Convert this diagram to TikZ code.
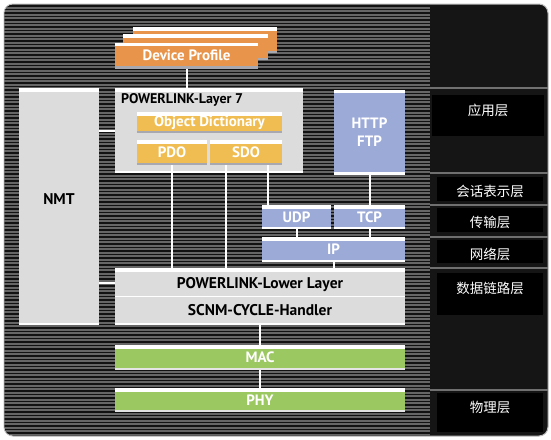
\documentclass[tikz,border=0pt]{standalone}
\usepackage{fontspec}
\setmainfont{PT Sans}
\newfontfamily\cjk{Noto Sans CJK SC}
\definecolor{stripegray}{HTML}{666666}
\definecolor{stripeblack}{HTML}{121212}
\definecolor{panel}{HTML}{151515}
\definecolor{rimgray}{HTML}{BDBDBD}
\definecolor{bandline}{HTML}{707070}
\definecolor{profile}{HTML}{E8944A}
\definecolor{dict}{HTML}{F0BD52}
\definecolor{grayblk}{HTML}{DCDCDC}
\definecolor{netblue}{HTML}{9CAAD8}
\definecolor{phygreen}{HTML}{9CC862}
\definecolor{lowgray}{HTML}{A8A8B0}
\definecolor{lowgreen}{HTML}{E4E4E4}
\newcommand\boxfont{\bfseries\fontsize{15}{17}\selectfont}
\newcommand\tagfont{\cjk\fontsize{13.5}{15}\selectfont}
\begin{document}
\begin{tikzpicture}[x=1pt,y=-1pt,
  layer/.style 2 args={rectangle, inner sep=0pt, outer sep=0pt, fill=#1, text=white, font=\boxfont,
    path picture={
      \fill[white] (path picture bounding box.north west) rectangle ([yshift=-3.5pt]path picture bounding box.north east);
      \fill[#2] (path picture bounding box.south west) rectangle ([yshift=2.5pt]path picture bounding box.south east);}},
  dims/.style 2 args={minimum width=#1pt, minimum height=#2pt},
  wire/.style={white, line width=2pt},
  tag/.style 2 args={fill=black, text=white, font=\tagfont, inner sep=0pt, minimum width=106pt,
    text height=#1pt, text depth=#2pt, anchor=north}]
\useasboundingbox (0,0) rectangle (551,439);
\fill[white] (0,0) rectangle (551,439);
% frame and striped background
\draw[draw=rimgray, line width=1pt, fill=panel, rounded corners=9pt] (4,4) rectangle (548,436);
\begin{scope}
\clip[rounded corners=9pt] (4.5,4.5) rectangle (547.5,435.5);
\fill[stripegray] (4,4) rectangle (430,436);
\foreach \y in {6,9.5,...,436} \draw[stripeblack, line width=1.7pt] (4,\y) -- (430,\y);
\end{scope}
\foreach \y in {88,173,205,237,268,390} \draw[bandline, line width=1.5pt] (430,\y) -- (548,\y);

% OSI layers
\node[tag={20}{21}, minimum width=112pt] (app) at (488,95) {应用层};
\node[tag={19}{5}] (ses) at (490,177) {会话表示层};
\node[tag={19}{5}] (tra) at (490,208) {传输层};
\node[tag={19}{4}] (net) at (490,240) {网络层};
\node[tag={20}{22}] (dll) at (490,273) {数据链路层};
\node[tag={19}{20}] (phl) at (490,393) {物理层};

% stack
\node[layer={profile}{lowgray}, dims={144}{26}] (dp3) at (205,40) {};
\node[layer={profile}{lowgray}, dims={145}{26}] (dp2) at (195.5,47) {};
\node[layer={profile}{lowgray}, dims={143}{26}] (dp) at (186.5,55.5) {Device Profile};
\node[layer={grayblk}{white}, dims={188}{85},
  label={[anchor=north west, xshift=6pt, yshift=-5pt, inner sep=0pt, text=black,
  font=\bfseries\fontsize{14}{16}\selectfont]north west:POWERLINK-Layer 7}] (l7) at (209,130.5) {};
\node[layer={dict}{lowgray}, dims={145}{21}] (od) at (209.5,122.5) {Object Dictionary};
\node[layer={dict}{lowgray}, dims={70}{25}] (pdo) at (172,152.5) {PDO};
\node[layer={dict}{lowgray}, dims={72}{25}] (sdo) at (246,152.5) {SDO};
\node[layer={grayblk}{white}, dims={80}{237},
  label={[yshift=7pt, text=black, font=\bfseries\fontsize{15.5}{17}\selectfont]center:NMT}] (nmt) at (59,206.5) {};
\node[layer={netblue}{white}, dims={71}{85}, align=center,
  font=\bfseries\fontsize{15}{18}\selectfont] (http) at (369.5,132) {HTTP\\FTP};
\node[layer={netblue}{white}, dims={69}{24}] (udp) at (296.5,217) {UDP};
\node[layer={netblue}{white}, dims={71}{24}] (tcp) at (369.5,217) {TCP};
\node[layer={netblue}{white}, dims={143}{25}] (ip) at (333.5,249.5) {IP};
\node[layer={grayblk}{white}, dims={290}{57}, text=black, align=center,
  font=\bfseries\fontsize{15.5}{27}\selectfont] (ll) at (260,296.5) {POWERLINK-Lower Layer\\SCNM-CYCLE-Handler};
\draw[white, line width=1pt] (ll.west) -- (ll.east);
\node[layer={phygreen}{lowgreen}, dims={290}{25}] (mac) at (260,357.5) {MAC};
\node[layer={phygreen}{lowgreen}, dims={290}{24}] (phy) at (260,400) {PHY};

% links
\draw[wire] (dp.south) -- (dp.south |- l7.north);
\draw[wire] (l7.west -| nmt.east) -- (l7.west);
\draw[wire] ([yshift=13.5pt]ll.west -| nmt.east) -- ([yshift=13.5pt]ll.west);
\draw[wire] (pdo.south) -- (pdo.south |- ll.north);
\draw[wire] ([xshift=-20pt]sdo.south) -- ([xshift=-20pt]sdo.south |- ll.north);
\draw[wire] ([xshift=22pt]sdo.south) -- ([xshift=22pt]sdo.south |- udp.north);
\draw[wire] (http.south) -- (tcp.north);
\draw[wire] (udp.south) -- (udp.south |- ip.north);
\draw[wire] (tcp.south) -- (tcp.south |- ip.north);
\draw[wire] (ip.south) -- (ip.south |- ll.north);
\draw[wire] (ll.south) -- (mac.north);
\draw[wire] (mac.south) -- (phy.north);
\end{tikzpicture}
\end{document}
